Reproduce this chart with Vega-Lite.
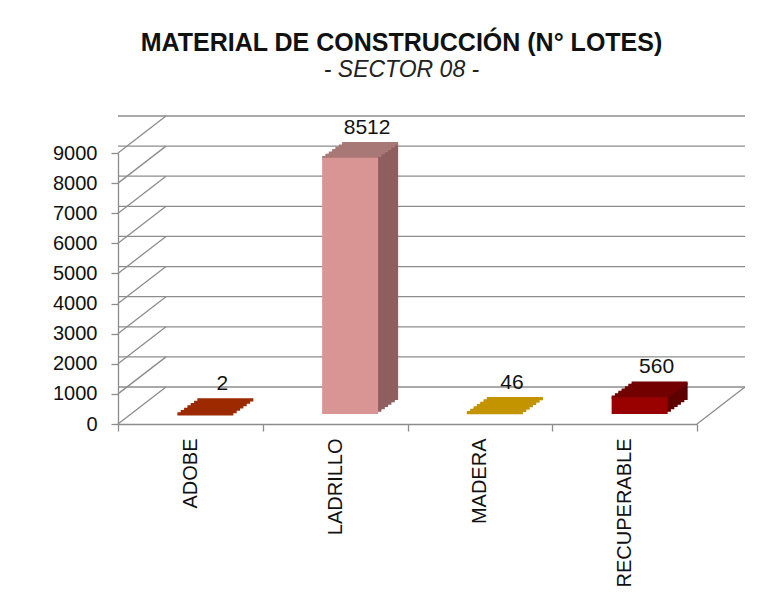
{
  "$schema": "https://vega.github.io/schema/vega-lite/v6.json",
  "width": 579,
  "height": 271,
  "autosize": {"type": "none"},
  "padding": {"left": 118, "top": 153, "right": 85, "bottom": 187},
  "background": "white",
  "title": {
    "text": "MATERIAL DE CONSTRUCCIÓN (N° LOTES)",
    "subtitle": "- SECTOR 08 -",
    "font": "Liberation Sans",
    "fontSize": 25,
    "fontWeight": "bold",
    "color": "#111111",
    "subtitleFont": "Liberation Sans",
    "subtitleFontSize": 23,
    "subtitleFontStyle": "italic",
    "subtitleColor": "#222222",
    "subtitlePadding": 3,
    "anchor": "middle",
    "offset": 33,
    "dx": -6
  },
  "datasets": {
    "materials": [
      {"material": "ADOBE", "value": 2},
      {"material": "LADRILLO", "value": 8512},
      {"material": "MADERA", "value": 46},
      {"material": "RECUPERABLE", "value": 560}
    ],
    "grid": [
      {"value": 0}, {"value": 1000}, {"value": 2000}, {"value": 3000}, {"value": 4000},
      {"value": 5000}, {"value": 6000}, {"value": 7000}, {"value": 8000}, {"value": 9000}
    ]
  },
  "config": {
    "view": {"stroke": null}
  },
  "encoding": {
    "y": {
      "field": "value", "type": "quantitative",
      "scale": {"domain": [0, 9000], "nice": false},
      "axis": {
        "title": null, "values": [0, 1000, 2000, 3000, 4000, 5000, 6000, 7000, 8000, 9000],
        "format": "d", "grid": false, "labelFont": "Liberation Sans", "labelFontSize": 20, "labelColor": "#111111",
        "tickSize": 7, "labelPadding": 14, "domainColor": "#8c8c8c", "tickColor": "#8c8c8c",
        "domainWidth": 1.3, "tickWidth": 1.3, "labelFlush": false, "labelOverlap": false
      }
    }
  },
  "layer": [
    {
      "data": {"name": "grid"},
      "mark": {"type": "rule", "color": "#8c8c8c", "strokeWidth": 1.3, "xOffset": 48, "x2Offset": 48, "yOffset": -37}
    },
    {
      "data": {"name": "grid"},
      "mark": {"type": "rule", "color": "#8c8c8c", "strokeWidth": 1.3, "x2Offset": 48, "y2Offset": -37},
      "encoding": {
        "x": {"datum": "ADOBE", "type": "nominal", "bandPosition": 0},
        "x2": {"datum": "ADOBE", "bandPosition": 0},
        "y2": {"field": "value"}
      }
    },
    {
      "data": {"name": "grid"},
      "transform": [{"filter": "datum.value == 0"}],
      "mark": {"type": "rule", "color": "#8c8c8c", "strokeWidth": 1.3, "x2Offset": 48, "y2Offset": -37},
      "encoding": {
        "x": {"datum": "RECUPERABLE", "type": "nominal", "bandPosition": 1},
        "x2": {"datum": "RECUPERABLE", "bandPosition": 1},
        "y2": {"field": "value"}
      }
    },
    {
      "data": {"name": "materials"},
      "layer": [
        {"mark": {"type": "bar", "width": 56, "xOffset": 35, "x2Offset": 35, "yOffset": -24, "y2Offset": -24}},
        {"mark": {"type": "bar", "width": 56, "xOffset": 31.7, "x2Offset": 31.7, "yOffset": -21.7, "y2Offset": -21.7}},
        {"mark": {"type": "bar", "width": 56, "xOffset": 28.3, "x2Offset": 28.3, "yOffset": -19.3, "y2Offset": -19.3}},
        {"mark": {"type": "bar", "width": 56, "xOffset": 25, "x2Offset": 25, "yOffset": -17, "y2Offset": -17}},
        {"mark": {"type": "bar", "width": 56, "xOffset": 21.7, "x2Offset": 21.7, "yOffset": -14.7, "y2Offset": -14.7}},
        {"mark": {"type": "bar", "width": 56, "xOffset": 18.3, "x2Offset": 18.3, "yOffset": -12.3, "y2Offset": -12.3}}
      ],
      "encoding": {
        "x": {
          "field": "material", "type": "nominal",
          "scale": {"domain": ["ADOBE", "LADRILLO", "MADERA", "RECUPERABLE"], "paddingInner": 0, "paddingOuter": 0},
          "axis": {
            "title": null, "labelAngle": -90, "labelFont": "Liberation Sans", "labelFontSize": 20,
            "labelColor": "#111111", "tickBand": "extent", "tickSize": 7, "tickColor": "#8c8c8c",
            "domainColor": "#8c8c8c", "domainWidth": 1.3, "tickWidth": 1.3, "labelPadding": 7
          }
        },
        "fill": {
          "field": "material", "type": "nominal", "legend": null,
          "scale": {"domain": ["ADOBE", "LADRILLO", "MADERA", "RECUPERABLE"], "range": ["#9c2a00", "#8f5e5e", "#c49300", "#5e0000"]}
        }
      }
    },
    {
      "data": {"name": "materials"},
      "layer": [
        {"mark": {"type": "bar", "width": 56, "fillOpacity": 0, "strokeWidth": 3.2, "xOffset": 35, "x2Offset": 35, "yOffset": -24, "y2Offset": -24}},
        {"mark": {"type": "bar", "width": 56, "fillOpacity": 0, "strokeWidth": 3.2, "xOffset": 31.7, "x2Offset": 31.7, "yOffset": -21.7, "y2Offset": -21.7}},
        {"mark": {"type": "bar", "width": 56, "fillOpacity": 0, "strokeWidth": 3.2, "xOffset": 28.3, "x2Offset": 28.3, "yOffset": -19.3, "y2Offset": -19.3}},
        {"mark": {"type": "bar", "width": 56, "fillOpacity": 0, "strokeWidth": 3.2, "xOffset": 25, "x2Offset": 25, "yOffset": -17, "y2Offset": -17}},
        {"mark": {"type": "bar", "width": 56, "fillOpacity": 0, "strokeWidth": 3.2, "xOffset": 21.7, "x2Offset": 21.7, "yOffset": -14.7, "y2Offset": -14.7}},
        {"mark": {"type": "bar", "width": 56, "fillOpacity": 0, "strokeWidth": 3.2, "xOffset": 18.3, "x2Offset": 18.3, "yOffset": -12.3, "y2Offset": -12.3}},
        {"mark": {"type": "bar", "width": 56, "fillOpacity": 0, "strokeWidth": 3.2, "xOffset": 15, "x2Offset": 15, "yOffset": -10, "y2Offset": -10}}
      ],
      "encoding": {
        "x": {"field": "material", "type": "nominal"},
        "y2": {"field": "value"},
        "stroke": {
          "field": "material", "type": "nominal", "legend": null,
          "scale": {"domain": ["ADOBE", "LADRILLO", "MADERA", "RECUPERABLE"], "range": ["#9c2a00", "#a87877", "#c49300", "#730000"]}
        }
      }
    },
    {
      "data": {"name": "materials"},
      "mark": {"type": "bar", "width": 56, "xOffset": 15, "x2Offset": 15, "yOffset": -10, "y2Offset": -10},
      "encoding": {
        "x": {"field": "material", "type": "nominal"},
        "color": {
          "field": "material", "type": "nominal", "legend": null,
          "scale": {"domain": ["ADOBE", "LADRILLO", "MADERA", "RECUPERABLE"], "range": ["#9c2a00", "#d99594", "#c49300", "#990000"]}
        }
      }
    },
    {
      "data": {"name": "materials"},
      "mark": {"type": "text", "font": "Liberation Sans", "fontSize": 21, "color": "#111111", "dx": 32, "dy": -40, "baseline": "middle"},
      "encoding": {
        "x": {"field": "material", "type": "nominal"},
        "text": {"field": "value", "type": "quantitative"}
      }
    }
  ]
}
